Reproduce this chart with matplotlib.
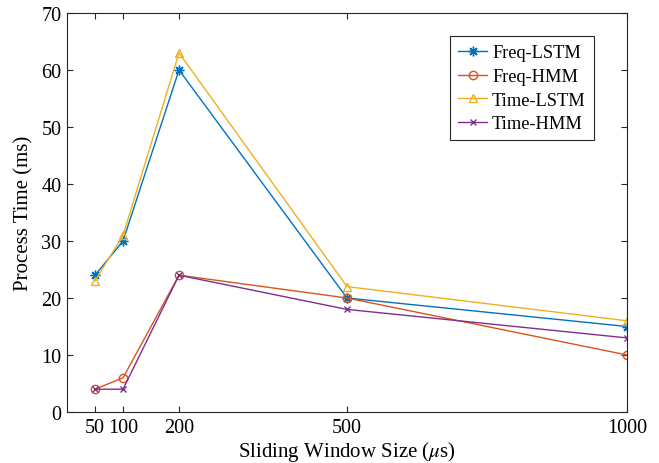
import matplotlib.pyplot as plt

# Datos
ventanas = [50, 100, 200, 500, 1000]
freq_lstm = [24, 30, 60, 20, 15]
freq_hmm = [4, 6, 24, 20, 10]
time_lstm = [23, 31, 63, 22, 16]
time_hmm = [4, 4, 24, 18, 13]

plt.rcParams['font.family'] = ['Liberation Serif', 'DejaVu Serif']
plt.rcParams['mathtext.fontset'] = 'stix'

fig = plt.figure(figsize=(6.59, 4.64), dpi=100)
ax = fig.add_axes([0.1017, 0.1099, 0.8498, 0.8599])

ax.plot(ventanas, freq_lstm, color='#0072BD', marker=(8, 2, 0), markersize=7, mew=1, lw=1, label='Freq-LSTM')
ax.plot(ventanas, freq_hmm, color='#D95319', marker='o', markersize=6, mfc='none', lw=1, label='Freq-HMM')
ax.plot(ventanas, time_lstm, color='#EDB120', marker='^', markersize=6, mfc='none', lw=1, label='Time-LSTM')
ax.plot(ventanas, time_hmm, color='#7E2F8E', marker='x', markersize=5, lw=1, label='Time-HMM')

ax.set_xlim(0, 1000)
ax.set_ylim(0, 70)
ax.set_xticks(ventanas)
ax.set_yticks(range(0, 71, 10))
ax.tick_params(direction='in', top=True, right=True, labelsize=14.5, color='#262626', length=4, pad=4)
for s in ax.spines.values():
    s.set_color('#262626')
    s.set_linewidth(0.8)

ax.set_xlabel(r'Sliding Window Size ($\mu$s)', fontsize=15, labelpad=2)
ax.set_ylabel('Process Time (ms)', fontsize=15, labelpad=6)

leg = ax.legend(loc='upper right', bbox_to_anchor=(0.941, 0.942), fontsize=13.2, fancybox=False,
                edgecolor='#262626', framealpha=1, borderpad=0.45, labelspacing=0.36, handlelength=1.6,
                handletextpad=0.25, borderaxespad=0)
leg.get_frame().set_linewidth(0.8)

fig.savefig('out.png', dpi=100)
